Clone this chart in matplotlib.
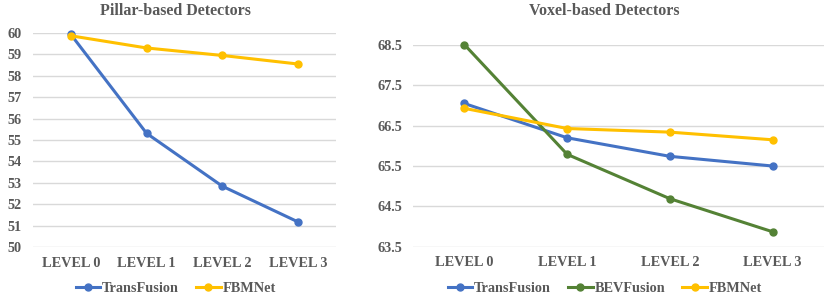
import matplotlib
matplotlib.use("Agg")
import matplotlib.pyplot as plt

# data
levels = ["LEVEL 0", "LEVEL 1", "LEVEL 2", "LEVEL 3"]

pillar_transfusion = [59.93, 55.31, 52.84, 51.17]
pillar_fbmnet = [59.87, 59.30, 58.95, 58.55]

voxel_transfusion = [67.05, 66.20, 65.74, 65.50]
voxel_bevfusion = [68.51, 65.79, 64.69, 63.87]
voxel_fbmnet = [66.93, 66.43, 66.34, 66.15]

pillar_ticks = [50, 51, 52, 53, 54, 55, 56, 57, 58, 59, 60]
voxel_ticks = [63.5, 64.5, 65.5, 66.5, 67.5, 68.5]

BLUE = "#4472C4"
GREEN = "#548235"
YELLOW = "#FFC000"
TEXT = "#595959"
GRID = "#D9D9D9"

plt.rcParams["font.family"] = ["Liberation Serif", "DejaVu Serif"]
plt.rcParams["font.weight"] = "bold"

fig = plt.figure(figsize=(8.3, 3.04), dpi=100)
ax1 = fig.add_axes([33 / 830, 1 - 247 / 304, 303 / 830, 214 / 304])
ax2 = fig.add_axes([413 / 830, 1 - 246.7 / 304, 411 / 830, 201.7 / 304])


def style_axis(ax, ticks, fmt):
    ax.set_xlim(-0.5, 3.5)
    ax.set_ylim(ticks[0], ticks[-1])
    ax.set_yticks(ticks)
    ax.set_yticklabels([fmt.format(t) for t in ticks])
    ax.set_xticks(range(len(levels)))
    ax.set_xticklabels(levels)
    ax.tick_params(length=0, colors=TEXT, labelsize=10.3)
    ax.tick_params(axis="x", pad=7)
    ax.tick_params(axis="y", pad=8)
    for lbl in ax.get_xticklabels() + ax.get_yticklabels():
        lbl.set_fontweight("bold")
    for s in ax.spines.values():
        s.set_visible(False)
    ax.grid(axis="y", color=GRID, linewidth=1)
    ax.set_axisbelow(True)


def draw(ax, values, color, label):
    ax.plot(range(len(levels)), values, color=color, linewidth=2.2,
            marker="o", markersize=5, label=label, clip_on=False, zorder=3)


draw(ax1, pillar_transfusion, BLUE, "TransFusion")
draw(ax1, pillar_fbmnet, YELLOW, "FBMNet")
style_axis(ax1, pillar_ticks, "{:d}")

draw(ax2, voxel_transfusion, BLUE, "TransFusion")
draw(ax2, voxel_bevfusion, GREEN, "BEVFusion")
draw(ax2, voxel_fbmnet, YELLOW, "FBMNet")
style_axis(ax2, voxel_ticks, "{:.1f}")

fig.text(175 / 830, 1 - 11 / 304, "Pillar-based Detectors", ha="center",
         va="center", color=TEXT, fontsize=11.5, fontweight="bold")
fig.text(604 / 830, 1 - 11 / 304, "Voxel-based Detectors", ha="center",
         va="center", color=TEXT, fontsize=11.5, fontweight="bold")

h1, l1 = ax1.get_legend_handles_labels()
fig.legend(h1, l1, loc="center", bbox_to_anchor=(176 / 830, 1 - 288 / 304),
           ncol=2, frameon=False, fontsize=10.3, handlelength=1.7,
           columnspacing=1.2, handletextpad=0.15, labelcolor=TEXT)
h2, l2 = ax2.get_legend_handles_labels()
fig.legend(h2, l2, loc="center", bbox_to_anchor=(605 / 830, 1 - 288 / 304),
           ncol=3, frameon=False, fontsize=10.3, handlelength=1.7,
           columnspacing=1.2, handletextpad=0.15, labelcolor=TEXT)

fig.savefig("out.png", dpi=100, facecolor="white")
